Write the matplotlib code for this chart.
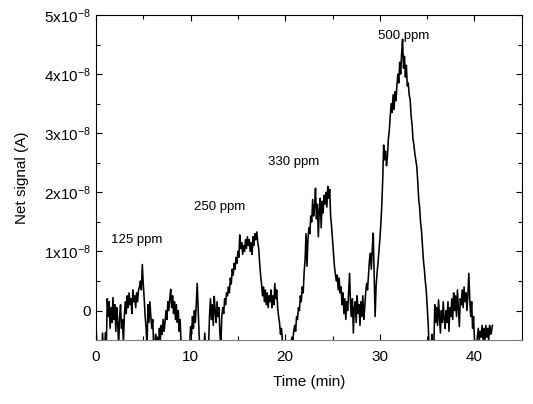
# Net signal vs time for the four concentrations
import numpy as np
import matplotlib
matplotlib.use('Agg')
import matplotlib.pyplot as plt
from matplotlib.ticker import MultipleLocator, FuncFormatter

plt.rcParams['font.family'] = ['Liberation Sans', 'DejaVu Sans']
plt.rcParams['mathtext.default'] = 'regular'

# signal in units of 1e-9 A, one row per minute, 0.1 min apart
signal = [
    -2.5, -6, -7, -7, -7, -7, -7, -3.8, -7, -7,
    -3.7, -6, 2.0, -1, 1.5, -3, 0.5, -2, 2.2, -1.5,
    1.0, -3.5, 0.5, -2, -6, -1, 1.0, -3, -1.5, -5.5,
    -1, 1.5, -0.5, 2.5, 0.5, 3.0, 1.0, 2.0, -0.5, 3.5,
    1.5, 2.5, 0.5, 3.0, 1.5, 3.5, 4.0, 5.0, 3.5, 7.8,
    4.5, 2.0, -1, -3, -6, 1.0, -2, 1.5, -1, -3,
    -1.5, -6, -7, -4, -6, -4.5, -7, -3, -5, -2.5,
    -4, -1.5, -3.5, -2, 0, -1.5, 1.5, 0, 2.0, 3.6,
    0.5, 2.5, -0.5, 1.5, -1.5, 1.0, -2, 0, -3.5, -1.5,
    -6, -7, -7, -7, -7, -7, -7, -7, -7, -6,
    -2.7, -4, -1, -3, 0, -2, 1.0, 4.6, 0.5, -4,
    -7, -7, -7, -7, -7, -3.8, -7, -7, -7, -6,
    -1, 2.0, -1.5, 1.0, -2.5, 2.4, 0, -2, 1.5, -1,
    0.5, -4, -6, -1, 0.5, -0.5, 2.0, 1.0, 3.0, 2.5,
    4.0, 3.0, 5.5, 4.5, 7.0, 6.0, 8.0, 7.0, 9.0, 8.0,
    10.0, 9.0, 12.8, 10.5, 11.5, 9.5, 11.0, 10.0, 12.0, 10.5,
    12.5, 11.0, 12.0, 10.0, 11.5, 9.5, 12.5, 11.0, 13.0, 12.0,
    13.3, 11.5, 10.5, 8.0, 6.0, 4.5, 2.5, 4.0, 1.5, 3.5,
    1.0, 3.0, 0.5, 2.5, 1.5, 3.5, 0.5, 2.5, 1.0, 4.6,
    2.0, 3.5, 0.5, -1, -2, -4, -3, -5, -6, -7,
    -7, -7, -7, -7, -7, -7, -6, -4.5, -5, -3.5,
    -2.5, -3.5, -1, -1.5, 0.5, 0, 2.5, 1.5, 4.0, 3.0,
    6.5, 8.6, 13.0, 7.5, 12.0, 14.0, 13.0, 16.0, 15.0, 18.8,
    16.0, 17.5, 20.7, 15.5, 18.0, 12.5, 17.0, 19.0, 14.0, 18.5,
    16.5, 19.5, 18.0, 20.0, 17.5, 21.0, 19.0, 20.5, 16.0, 14.2,
    12.0, 10.0, 7.5, 6.3, 5.0, 6.0, 3.5, 5.5, 3.0, 4.0,
    1.0, 3.0, -0.5, 2.0, -1.5, 1.5, 0, 3.0, 6.3, 1.0,
    -1, 2.0, -3.8, 0.5, 1.5, -2, 2.5, -0.5, 1.0, -2.5,
    1.5, -1, 2.5, -1.5, 0.5, 3.0, 4.6, 3.5, 6.0, 8.5,
    9.7, 7.0, 10.5, 13.1, 6.0, -1, 4.0, 6.3, 8.0, 10.0,
    12.0, 14.5, 17.6, 22.0, 28.0, 25.5, 27.0, 24.5, 26.0, 29.0,
    30.5, 33.0, 35.0, 33.5, 36.5, 34.0, 37.0, 35.5, 38.0, 40.0,
    38.5, 42.0, 40.0, 43.5, 45.9, 41.0, 43.0, 39.5, 41.5, 38.0,
    38.5, 36.5, 35.7, 33.0, 31.5, 29.0, 28.0, 26.5, 25.5, 24.4,
    22.0, 19.0, 17.5, 15.0, 13.5, 11.0, 8.6, 7.0, 5.0, 3.5,
    0.7, -2, -6, -7, -7, -4, -6, -7, 1.0, -2,
    0.5, -2.5, 1.8, -1, -3.8, 0, -2, 1.5, -1.5, -3,
    0, -2, 1.5, -3.5, 0.5, -1, 2.0, -1.5, 3.0, 0,
    2.5, -1, 3.5, 0.5, -2.7, 2.0, 1.0, 3.5, 0.5, 4.0,
    1.5, 3.0, 0, 2.5, 6.3, 2.0, -1, 1.5, -3, -1,
    -5, -7, -7, -4.5, -3.0, -5, -3.5, -4.5, -2.5, -5,
    -3, -5, -2.5, -4.5, -3, -5, -2.5, -4, -3.5, -2.5,
]
time = np.arange(len(signal)) * 0.1
current = np.array(signal) * 1e-9

labels = ['125 ppm', '250 ppm', '330 ppm', '500 ppm']
label_t = [4.3, 13.1, 20.9, 32.5]
label_y = [1.2e-8, 1.75e-8, 2.52e-8, 4.64e-8]

fig = plt.figure(figsize=(5.33, 4.04), dpi=100)
ax = fig.add_axes([0.18, 0.158, 0.799, 0.805])
ax.plot(time, current, color='black', lw=1.15)

for lab, t, y in zip(labels, label_t, label_y):
    ax.text(t, y, lab, ha='center', va='center', fontsize=9.5)

ax.set_xlim(0, 45)
ax.set_ylim(-0.5e-8, 5e-8)
ax.xaxis.set_major_locator(MultipleLocator(10))
ax.xaxis.set_minor_locator(MultipleLocator(5))
ax.yaxis.set_major_locator(MultipleLocator(1e-8))
ax.yaxis.set_minor_locator(MultipleLocator(0.5e-8))

def yfmt(v, pos):
    n = int(round(v / 1e-8))
    if n == 0:
        return '0'
    return f'{n}x10$^{{-8}}$'

ax.yaxis.set_major_formatter(FuncFormatter(yfmt))
ax.tick_params(which='both', direction='in', top=True, right=True,
               labelsize=11, width=0.8)
ax.tick_params(which='major', length=4)
ax.tick_params(which='minor', length=3)
ax.tick_params(axis='x', pad=7)
ax.spines['bottom'].set_color('#808080')

ax.set_xlabel('Time (min)', fontsize=11, labelpad=8)
ax.set_ylabel('Net signal (A)', fontsize=11, labelpad=11)

fig.savefig('out.png', dpi=100)
